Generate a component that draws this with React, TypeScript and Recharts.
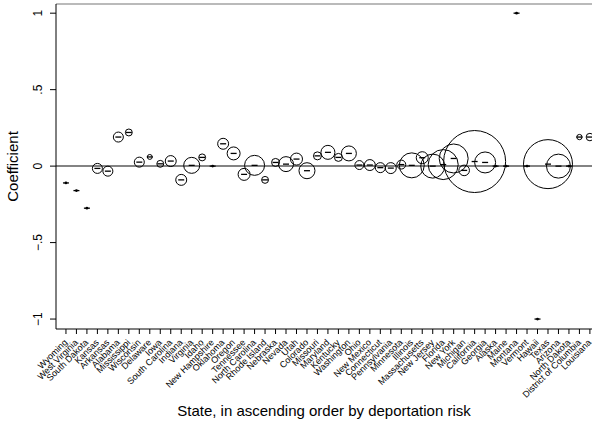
import React from "react";
import {
  ScatterChart, Scatter, XAxis, YAxis, ZAxis, ReferenceLine,
} from "recharts";

// ─── Data ─────────────────────────────────────────────────────────────────────

const states = [
  "Wyoming", "West Virginia", "South Dakota", "Kansas", "Arkansas", "Alabama",
  "Mississippi", "Wisconsin", "Delaware", "Iowa", "South Carolina", "Indiana",
  "Virginia", "Idaho", "New Hampshire", "Oklahoma", "Oregon", "Tennessee",
  "North Carolina", "Rhode Island", "Nebraska", "Nevada", "Utah", "Colorado",
  "Missouri", "Maryland", "Kentucky", "Washington", "Ohio", "New Mexico",
  "Connecticut", "Pennsylvania", "Minnesota", "Illinois", "Massachusetts",
  "New Jersey", "Florida", "New York", "Michigan", "California", "Georgia",
  "Alaska", "Maine", "Montana", "Vermont", "Hawaii", "Texas", "Arizona",
  "North Dakota", "District of Columbia", "Louisiana",
];

const coefficients = [
  -0.11, -0.16, -0.275, -0.015, -0.033, 0.19,
  0.22, 0.026, 0.06, 0.015, 0.033, -0.09,
  0.005, 0.057, 0.0, 0.146, 0.083, -0.054,
  0.005, -0.09, 0.024, 0.013, 0.046, -0.03,
  0.067, 0.09, 0.057, 0.083, 0.007, 0.007,
  -0.01, -0.013, 0.01, 0.005, 0.055,
  0.0, 0.01, 0.05, -0.028, 0.03, 0.024,
  0.0, 0.0, 1.0, 0.0, -1.0, 0.013, 0.0,
  0.0, 0.19, 0.19,
];

// analytic weight of each state (bubble area)
const weights = [
  0, 0, 0, 25, 25, 25,
  12, 25, 6, 12, 30, 30,
  64, 12, 0, 30, 42, 36,
  100, 12, 16, 56, 36, 64,
  16, 49, 16, 56, 20, 30,
  25, 30, 20, 156, 36,
  144, 225, 210, 28, 961, 110,
  0, 0, 0, 0, 0, 600, 144,
  0, 7, 14,
];

const yTicks = [-1, -0.5, 0, 0.5, 1];
const yTickLabels = ["\u22121", "\u2212.5", "0", ".5", "1"];

const rows = states.map((s, i) => ({
  idx: i,
  state: s,
  coef: coefficients[i],
  w: weights[i],
}));

const X_DOMAIN: [number, number] = [-0.95, 50.2];
const Y_DOMAIN: [number, number] = [-1.065, 1.06];
const MAX_W = 961;
const FONT = "'Liberation Sans', Arial, Helvetica, sans-serif";

// ─── Ticks & marks ────────────────────────────────────────────────────────────

function StateTick(props: any) {
  const { x, y, payload } = props;
  const tx = x + 2;
  const ty = y + 7;
  return (
    <text
      x={tx}
      y={ty}
      transform={`rotate(-45, ${tx}, ${ty})`}
      textAnchor="end"
      fontSize={9}
      fontFamily={FONT}
      fill="#000"
    >
      {states[payload.value]}
    </text>
  );
}

function CoefTick(props: any) {
  const { y, payload } = props;
  const i = yTicks.indexOf(payload.value);
  const tx = 42;
  return (
    <text
      x={tx}
      y={y}
      transform={`rotate(-90, ${tx}, ${y})`}
      textAnchor="middle"
      fontSize={12}
      fontFamily={FONT}
      fill="#000"
    >
      {yTickLabels[i]}
    </text>
  );
}

function Bubble(props: any) {
  const { cx, cy, size, width } = props;
  const r = size != null ? Math.sqrt(Math.max(size, 0) / Math.PI) : (width || 0) / 2;
  return (
    <g>
      {r > 0.8 ? (
        <circle cx={cx} cy={cy} r={r} fill="none" stroke="#000" strokeWidth={1} />
      ) : (
        <circle cx={cx} cy={cy} r={1.4} fill="#000" />
      )}
      <line x1={cx - 3} x2={cx + 3} y1={cy} y2={cy} stroke="#000" strokeWidth={1.3} />
    </g>
  );
}

// ─── Component ────────────────────────────────────────────────────────────────

export default function App() {
  return (
    <div style={{ position: "absolute", left: 0, top: 0, width: 592, height: 426, background: "#fff" }}>
      <ScatterChart width={592} height={426} margin={{ top: 4, right: 0, bottom: 0, left: 0 }}>
        <XAxis
          type="number"
          dataKey="idx"
          domain={X_DOMAIN}
          ticks={rows.map((r) => r.idx)}
          interval={0}
          allowDataOverflow
          height={97}
          tickSize={5}
          tickMargin={2}
          tick={<StateTick />}
          axisLine={{ stroke: "#000", strokeWidth: 1 }}
          tickLine={{ stroke: "#000" }}
          label={{
            value: "State, in ascending order by deportation risk",
            position: "insideBottom",
            offset: 10,
            fontSize: 15,
            fontFamily: FONT,
            fill: "#000",
          }}
        />
        <YAxis
          type="number"
          dataKey="coef"
          domain={Y_DOMAIN}
          ticks={yTicks}
          interval={0}
          allowDataOverflow
          width={56}
          tickSize={6}
          tick={<CoefTick />}
          axisLine={{ stroke: "#000", strokeWidth: 1 }}
          tickLine={{ stroke: "#000" }}
          label={{
            value: "Coefficient",
            angle: -90,
            position: "insideLeft",
            offset: 13,
            fontSize: 15,
            fontFamily: FONT,
            fill: "#000",
            style: { textAnchor: "middle" },
          }}
        />
        <ZAxis type="number" dataKey="w" domain={[0, MAX_W]} range={[0, Math.PI * MAX_W]} />
        <ReferenceLine y={Y_DOMAIN[1]} stroke="#777" strokeWidth={1.2} />
        <ReferenceLine y={0} stroke="#5a5a5a" strokeWidth={1.5} />
        <Scatter data={rows} shape={<Bubble />} isAnimationActive={false} />
      </ScatterChart>
    </div>
  );
}
